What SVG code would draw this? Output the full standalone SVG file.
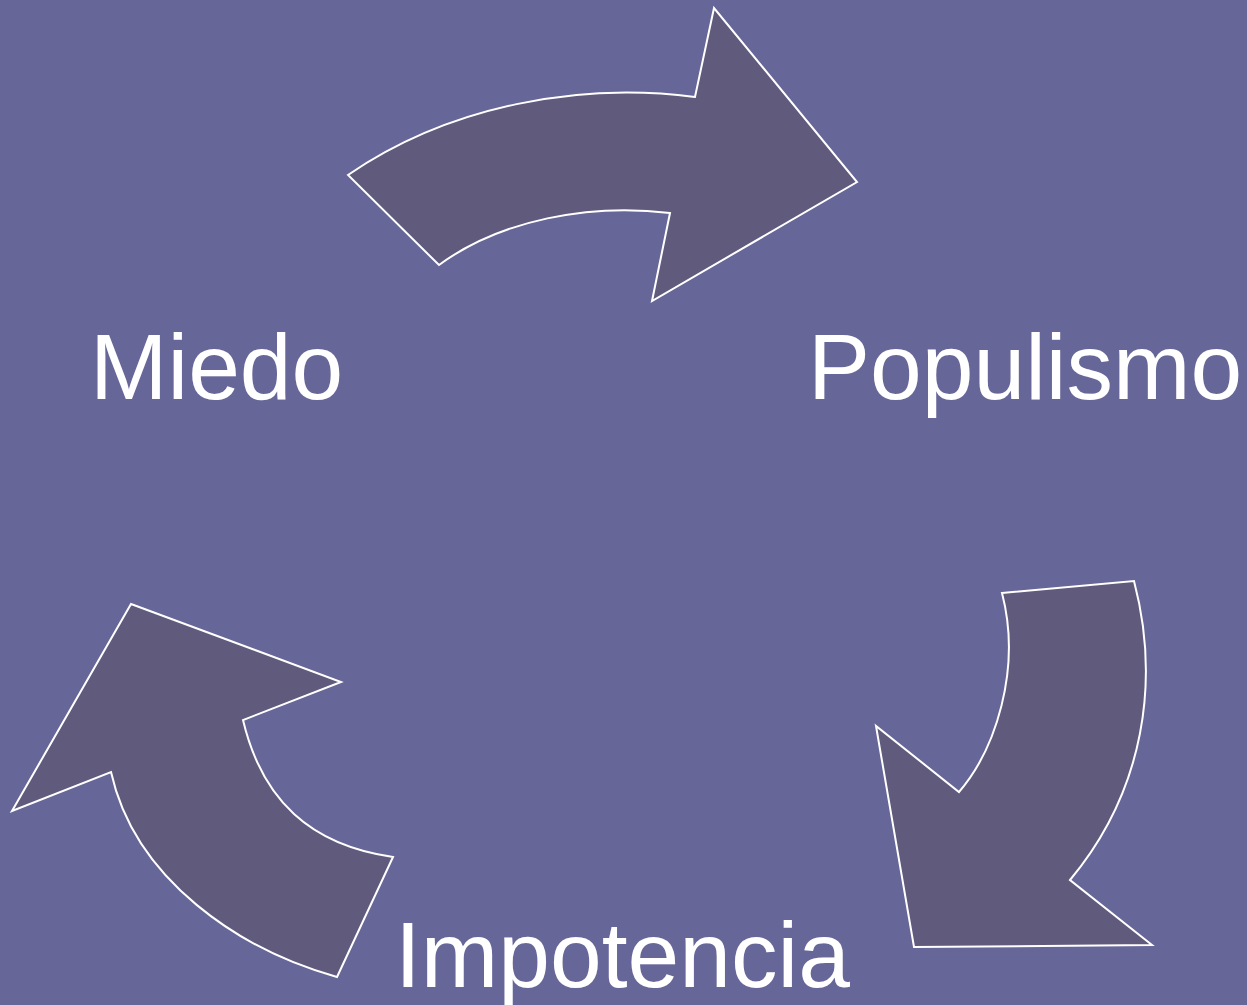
<svg xmlns="http://www.w3.org/2000/svg" width="1247" height="1005" viewBox="0 0 1247 1005">
<style>
.arrow{fill:#605a7d;stroke:#ffffff;stroke-width:2;stroke-linejoin:miter}
.lbl{font-family:"Liberation Sans",Arial,sans-serif;font-size:93px;fill:#ffffff}
</style>
<rect x="0" y="0" width="1247" height="1005" fill="#666699"/>
<g id="connectors">
<path id="arrow-top" class="arrow" d="M348,175 C450,105 580,82 695,97 L714,8 L857,182 L652,301 L670,213 C590,203 500,220 439,265 Z"/>
<path id="arrow-right" class="arrow" d="M1002,593 L1134,581 C1160,680 1145,790 1070,880 L1152,945 L914,947 L876,726 L959,792 C995,750 1022,670 1002,593 Z"/>
<path id="arrow-left" class="arrow" d="M131,604 L341,682 L243,720 C262,800 310,845 393,857 L337,977 C240,950 135,880 111,772 L12,811 Z"/>
</g>
<g id="node-miedo"><text class="lbl" x="90" y="399">Miedo</text></g>
<g id="node-populismo"><text class="lbl" x="808" y="399">Populismo</text></g>
<g id="node-impotencia"><text class="lbl" x="395" y="987">Impotencia</text></g>
</svg>
